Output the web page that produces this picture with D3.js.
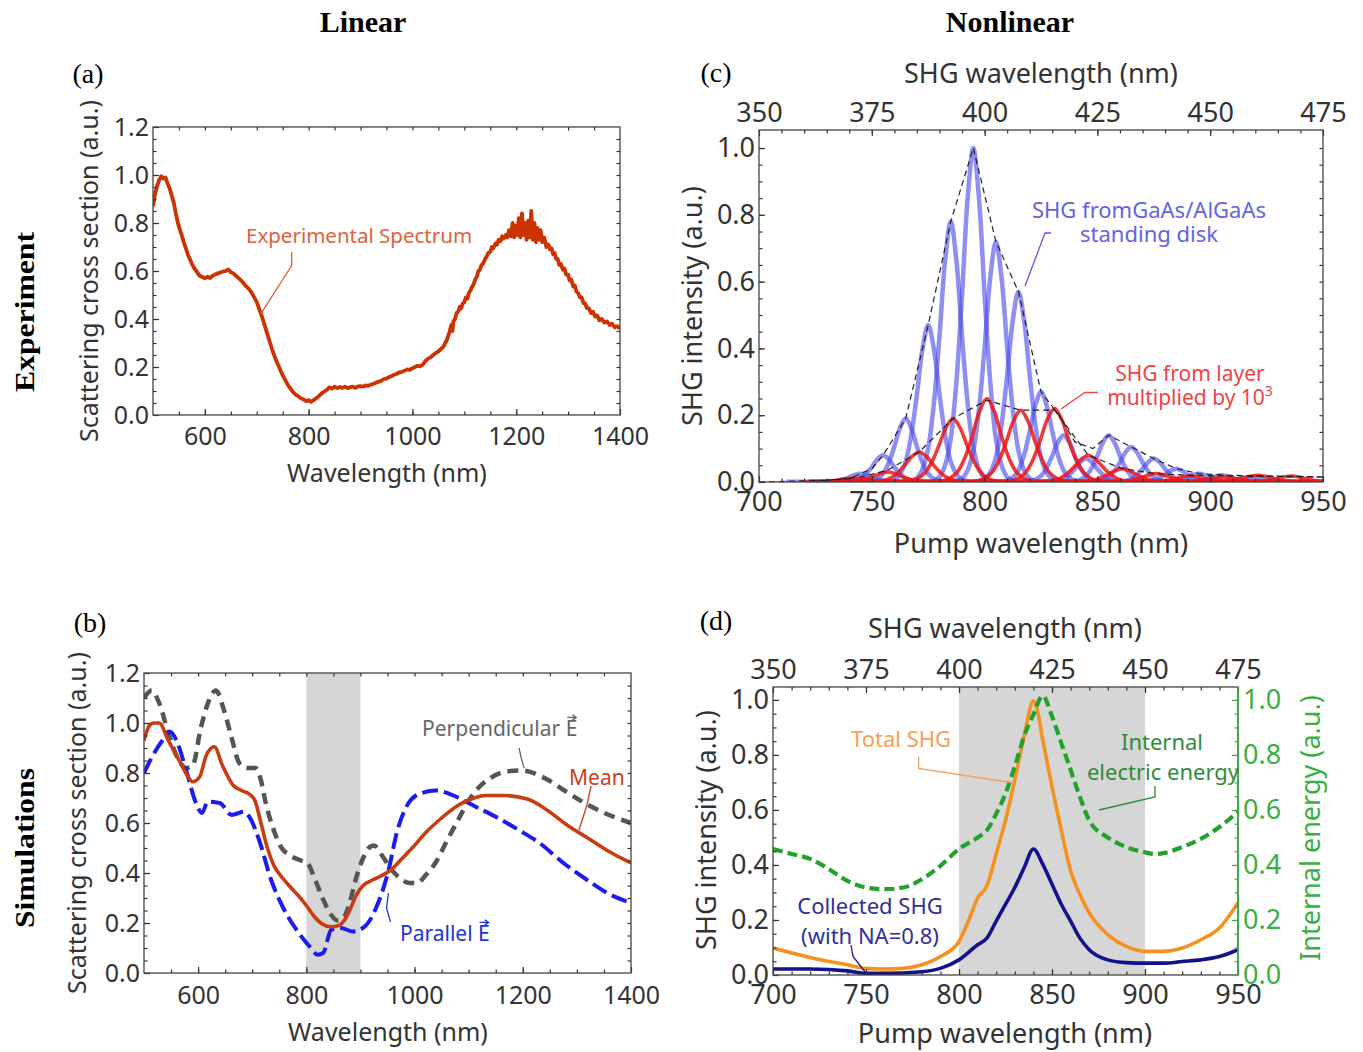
<!DOCTYPE html>
<html><head><meta charset="utf-8">
<script src="https://cdn.jsdelivr.net/npm/d3@7"></script>
<style>body{margin:0;background:#fff}svg{display:block}</style>
</head><body>
<svg id="chart" width="1363" height="1052"></svg>
<script>
// ---------------- DATA ----------------
// (a) experimental spectrum [wavelength nm, value]
const specA = [[500,.87],[504,.92],[508,.955],[512,.98],[516,.995],[520,.985],[524,.99],[528,.965],[532,.945],[536,.915],[540,.885],[544,.84],[548,.80],[552,.77],[556,.745],[560,.715],[564,.69],[568,.665],[572,.645],[576,.625],[580,.61],[585,.595],[590,.58],[595,.575],[600,.57],[605,.576],[610,.571],[615,.58],[620,.586],[625,.59],[630,.594],[635,.598],[640,.60],[645,.606],[650,.595],[655,.59],[660,.58],[665,.57],[670,.56],[675,.548],[680,.535],[685,.525],[690,.51],[695,.49],[700,.47],[705,.44],[710,.41],[715,.375],[720,.34],[725,.305],[730,.27],[735,.24],[740,.215],[745,.19],[750,.165],[755,.145],[760,.125],[765,.11],[770,.095],[775,.085],[780,.078],[785,.07],[790,.065],[795,.058],[800,.062],[805,.055],[810,.063],[815,.07],[820,.08],[825,.09],[830,.098],[835,.105],[840,.115],[845,.11],[850,.118],[855,.112],[860,.117],[865,.113],[870,.118],[875,.112],[880,.115],[885,.118],[890,.113],[895,.119],[900,.12],[905,.118],[910,.123],[915,.121],[920,.127],[925,.13],[930,.135],[935,.139],[940,.143],[945,.15],[950,.152],[955,.158],[960,.162],[965,.168],[970,.172],[975,.178],[980,.18],[985,.185],[990,.19],[995,.188],[1000,.195],[1005,.2],[1010,.205],[1015,.203],[1020,.21],[1025,.225],[1030,.235],[1035,.24],[1040,.25],[1045,.258],[1050,.265],[1055,.275],[1060,.285],[1063,.30],[1066,.31],[1069,.33],[1072,.35],[1075,.375],[1077,.35],[1079,.39],[1082,.40],[1085,.425],[1088,.43],[1091,.45],[1094,.445],[1097,.465],[1100,.47],[1103,.49],[1106,.485],[1109,.51],[1112,.52],[1115,.535],[1118,.545],[1121,.565],[1124,.575],[1127,.60],[1130,.605],[1133,.625],[1136,.63],[1140,.65],[1143,.66],[1146,.675],[1150,.68],[1153,.70],[1156,.695],[1160,.715],[1163,.71],[1166,.73],[1170,.725],[1173,.745],[1176,.735],[1180,.75],[1183,.74],[1186,.77],[1190,.745],[1193,.80],[1196,.74],[1199,.79],[1202,.75],[1205,.82],[1208,.74],[1211,.84],[1214,.75],[1217,.80],[1220,.73],[1223,.81],[1226,.74],[1229,.85],[1232,.73],[1235,.80],[1238,.72],[1241,.78],[1244,.73],[1247,.77],[1250,.72],[1254,.74],[1258,.70],[1262,.71],[1265,.69],[1268,.695],[1271,.67],[1274,.675],[1277,.65],[1280,.65],[1283,.625],[1286,.63],[1290,.605],[1293,.61],[1296,.585],[1300,.585],[1303,.56],[1306,.565],[1310,.535],[1313,.54],[1316,.515],[1320,.505],[1323,.49],[1326,.49],[1330,.465],[1333,.465],[1336,.445],[1340,.445],[1344,.425],[1348,.43],[1352,.41],[1356,.415],[1360,.395],[1365,.40],[1370,.385],[1375,.39],[1380,.375],[1385,.38],[1390,.365],[1395,.37],[1400,.36]];

// (b) simulations
const perpB = [[500,1.10],[514,1.13],[528,1.08],[545,0.96],[562,0.86],[578,0.82],[590,0.83],[605,0.98],[620,1.09],[633,1.13],[648,1.05],[662,0.94],[676,0.84],[690,0.82],[706,0.82],[715,0.78],[725,0.68],[740,0.57],[753,0.505],[770,0.47],[790,0.45],[802,0.44],[815,0.38],[830,0.30],[845,0.235],[858,0.21],[870,0.225],[880,0.28],[892,0.38],[905,0.46],[918,0.505],[925,0.51],[940,0.47],[955,0.42],[970,0.385],[990,0.36],[1005,0.36],[1020,0.39],[1040,0.445],[1060,0.53],[1080,0.61],[1100,0.69],[1120,0.745],[1140,0.78],[1167,0.805],[1198,0.81],[1240,0.78],[1277,0.73],[1314,0.68],[1351,0.64],[1400,0.60]];
const meanB = [[500,0.93],[510,0.99],[518,1.0],[528,1.0],[545,0.93],[565,0.85],[580,0.79],[590,0.765],[603,0.785],[615,0.87],[630,0.905],[645,0.83],[665,0.75],[680,0.73],[695,0.715],[705,0.69],[715,0.61],[728,0.50],[740,0.43],[756,0.38],[770,0.345],[785,0.31],[800,0.27],[815,0.225],[830,0.195],[845,0.185],[860,0.19],[870,0.21],[880,0.25],[892,0.31],[905,0.35],[920,0.37],[935,0.385],[955,0.41],[980,0.465],[1000,0.51],[1020,0.56],[1050,0.62],[1080,0.67],[1110,0.70],[1130,0.71],[1165,0.71],[1210,0.695],[1246,0.65],[1283,0.59],[1320,0.54],[1356,0.49],[1400,0.44]];
const paraB = [[500,0.80],[515,0.865],[534,0.93],[548,0.965],[560,0.93],[578,0.81],[596,0.68],[607,0.64],[618,0.685],[640,0.68],[662,0.632],[684,0.645],[698,0.612],[713,0.53],[735,0.372],[756,0.266],[786,0.16],[806,0.106],[821,0.073],[831,0.08],[846,0.173],[864,0.18],[886,0.166],[908,0.186],[930,0.266],[952,0.412],[967,0.56],[989,0.68],[1011,0.718],[1040,0.73],[1077,0.705],[1113,0.665],[1150,0.625],[1194,0.57],[1231,0.52],[1275,0.44],[1319,0.372],[1356,0.32],[1400,0.28]];
const bandB = [800, 900];

// (c) SHG resonance peaks (pump wavelength nm, height)
const blueCenters = [745,755,765,775,785,795,805,815,825,835,845,855,865,875,885,895,905,918];
const blueHeights = [0.025,0.08,0.19,0.47,0.78,1.0,0.72,0.57,0.27,0.14,0.07,0.14,0.105,0.07,0.04,0.025,0.02,0.015];
const redCenters = [742,757,771,786,801,816,831,846,861,876,891,906,921,936];
const redHeights = [0.012,0.03,0.09,0.19,0.25,0.215,0.22,0.08,0.04,0.025,0.018,0.015,0.02,0.018];
// shape of one resonance (offset nm, relative height)
const peakOffsets = [-15,-12,-10,-8,-6,-4,-2,0,2,4,6,8,10,12,15];
const peakProfile = [0,0.015,0.05,0.13,0.3,0.56,0.85,1,0.85,0.56,0.3,0.13,0.05,0.015,0];
const blueEnv = [[720,0],[740,0.01],[750,0.04],[755,0.08],[765,0.19],[775,0.47],[785,0.78],[795,1.0],[805,0.72],[815,0.57],[825,0.27],[833,0.2],[840,0.12],[848,0.1],[855,0.14],[865,0.105],[875,0.07],[885,0.04],[895,0.025],[910,0.02],[950,0.015]];
const redEnv = [[700,0],[730,0.005],[745,0.015],[757,0.035],[771,0.09],[786,0.19],[801,0.245],[816,0.215],[831,0.215],[846,0.08],[861,0.04],[876,0.025],[891,0.02],[950,0.015]];
const blueBase = [[712,0.003],[950,0.003]];
const redBase = [[722,0.004],[950,0.004]];

// (d) SHG spectra
const totalD = [[700,0.098],[720,0.064],[740,0.037],[750,0.024],[760,0.022],[770,0.024],[780,0.037],[790,0.067],[800,0.122],[805,0.196],[810,0.28],[815,0.324],[820,0.44],[825,0.562],[830,0.709],[835,0.868],[840,0.996],[842,0.966],[845,0.856],[850,0.685],[855,0.526],[860,0.379],[865,0.293],[870,0.226],[880,0.147],[890,0.104],[900,0.086],[910,0.086],[920,0.098],[930,0.128],[940,0.171],[950,0.263]];
const collD = [[700,0.022],[720,0.022],[740,0.015],[750,0.006],[760,0.006],[780,0.012],[790,0.024],[800,0.055],[810,0.11],[815,0.134],[820,0.196],[825,0.257],[830,0.318],[835,0.39],[840,0.458],[845,0.403],[850,0.33],[855,0.257],[860,0.196],[865,0.134],[870,0.092],[880,0.055],[890,0.045],[900,0.043],[910,0.043],[920,0.049],[930,0.055],[940,0.067],[950,0.092]];
const energyD = [[700,0.458],[710,0.44],[720,0.422],[730,0.385],[740,0.342],[750,0.318],[760,0.312],[770,0.318],[780,0.348],[790,0.397],[800,0.458],[810,0.50],[815,0.526],[820,0.586],[825,0.66],[830,0.758],[835,0.868],[840,0.947],[845,1.015],[850,0.941],[855,0.843],[860,0.746],[865,0.648],[870,0.562],[880,0.50],[890,0.465],[900,0.446],[905,0.44],[910,0.443],[920,0.465],[930,0.495],[940,0.538],[950,0.593]];
const bandD = [800, 900];

// tick labels
const ticksAB_x = [600,800,1000,1200,1400];
const ticksAB_y = [0,0.2,0.4,0.6,0.8,1.0,1.2];
const ticksCD_pump = [700,750,800,850,900,950];
const ticksCD_shg = [350,375,400,425,450,475];
const ticksCD_y = [0,0.2,0.4,0.6,0.8,1.0];

// ---------------- DRAW ----------------
const svg = d3.select('#chart');
const SANS = "'Noto Sans','Open Sans',sans-serif";
const SERIF = "'Liberation Serif','DejaVu Serif','Times New Roman',serif";
const TXT = '#333';
const FR = '#444';

function styleAx(sel, fs, color) {
  sel.select('.domain').remove();
  sel.selectAll('line').attr('stroke', color).attr('stroke-width', 1.2);
  sel.selectAll('text').attr('font-family', SANS).attr('font-size', fs).attr('fill', color);
  return sel;
}
function clip(id, x, y) {
  svg.append('clipPath').attr('id', id).append('rect')
    .attr('x', x.range()[0]).attr('y', y.range()[1])
    .attr('width', x.range()[1]-x.range()[0]).attr('height', y.range()[0]-y.range()[1]);
}
function frame(x, y, color) {
  svg.append('rect').attr('x', x.range()[0]).attr('y', y.range()[1])
    .attr('width', x.range()[1]-x.range()[0]).attr('height', y.range()[0]-y.range()[1])
    .attr('fill','none').attr('stroke', color||FR).attr('stroke-width',1.3);
}
function ax(gen, tx, ty, fs, color) {
  return styleAx(svg.append('g').attr('transform',`translate(${tx},${ty})`).call(gen), fs, color||TXT);
}
function text(x, y, str, o) {
  o = o || {};
  const t = svg.append('text').attr('x', x).attr('y', y).text(str)
    .attr('font-family', o.family || SANS).attr('font-size', o.fs || 24)
    .attr('fill', o.color || TXT).attr('text-anchor', o.anchor || 'middle')
    .attr('font-weight', o.weight || 'normal');
  if (o.rot) t.attr('transform', `rotate(${o.rot},${x},${y})`);
  return t;
}
function leader(pts, color) {
  svg.append('path').attr('d', d3.line()(pts)).attr('fill','none')
    .attr('stroke', color).attr('stroke-width', 1.3);
}
function vecArrow(t, idx, fs, color) {
  const ext = t.node().getExtentOfChar(idx);
  const base = +t.attr('y');
  const ay = base - 0.72*fs - 3.5;
  const x1 = ext.x + 1.5, x2 = ext.x + ext.width - 1;
  svg.append('path').attr('d', `M${x1},${ay}L${x2},${ay}M${x2-4},${ay-2.5}L${x2},${ay}L${x2-4},${ay+2.5}`)
    .attr('fill','none').attr('stroke', color).attr('stroke-width', 1.2);
}

// Headers
text(363, 32, 'Linear', {family: SERIF, fs: 30, weight: 'bold', color: '#000'});
text(1010, 32, 'Nonlinear', {family: SERIF, fs: 30, weight: 'bold', color: '#000'});
text(34, 312, 'Experiment', {family: SERIF, fs: 28, weight: 'bold', color: '#000', rot: -90}).attr('textLength', 160).attr('lengthAdjust','spacingAndGlyphs');
text(34, 848, 'Simulations', {family: SERIF, fs: 28, weight: 'bold', color: '#000', rot: -90}).attr('textLength', 160).attr('lengthAdjust','spacingAndGlyphs');
text(88, 83, '(a)', {family: SERIF, fs: 28, color: '#000'});
text(90, 632, '(b)', {family: SERIF, fs: 28, color: '#000'});
text(716, 82, '(c)', {family: SERIF, fs: 28, color: '#000'});
text(716, 630, '(d)', {family: SERIF, fs: 28, color: '#000'});

// ---------- Panel A ----------
{
  const x = d3.scaleLinear([500,1400],[153,620]);
  const y = d3.scaleLinear([0,1.2],[415,127]);
  const fs = 25;
  clip('clipA', x, y);
  svg.append('path').datum(specA).attr('clip-path','url(#clipA)')
    .attr('d', d3.line().x(d=>x(d[0])).y(d=>y(d[1])))
    .attr('fill','none').attr('stroke','#cc3300').attr('stroke-width',3.8).attr('stroke-linejoin','round');
  const minX = d3.range(550,1400,50), minY = d3.range(0.05,1.2,0.05);
  ax(d3.axisBottom(x).tickValues(ticksAB_x).tickFormat(d3.format('d')).tickSizeInner(-6).tickSizeOuter(0).tickPadding(12), 0, 415, fs);
  ax(d3.axisBottom(x).tickValues(minX).tickFormat('').tickSize(-3.5), 0, 415, fs);
  ax(d3.axisTop(x).tickValues(minX).tickFormat('').tickSize(-3.5), 0, 127, fs);
  ax(d3.axisLeft(y).tickValues(ticksAB_y).tickFormat(d3.format('.1f')).tickSizeInner(-6).tickSizeOuter(0).tickPadding(4), 153, 0, fs);
  ax(d3.axisLeft(y).tickValues(minY).tickFormat('').tickSize(-3.5), 153, 0, fs);
  ax(d3.axisRight(y).tickValues(minY).tickFormat('').tickSize(-3.5), 620, 0, fs);
  frame(x, y);
  text(387, 482, 'Wavelength (nm)', {fs});
  text(98, 271, 'Scattering cross section (a.u.)', {fs, rot: -90});
  text(246, 243, 'Experimental Spectrum', {fs: 20.5, color: '#e2603a', anchor: 'start'});
  leader([[291.7,252],[291.7,265.6],[261,313.7]], '#e2603a');
}

// ---------- Panel B ----------
{
  const x = d3.scaleLinear([500,1400],[144,631]);
  const y = d3.scaleLinear([0,1.2],[973,673]);
  const fs = 25;
  clip('clipB', x, y);
  svg.append('rect').attr('x', x(bandB[0])).attr('y', y(1.2)).attr('width', x(bandB[1])-x(bandB[0]))
    .attr('height', y(0)-y(1.2)).attr('fill','#d6d6d6');
  const line = d3.line().x(d=>x(d[0])).y(d=>y(d[1])).curve(d3.curveMonotoneX);
  const g = svg.append('g').attr('clip-path','url(#clipB)');
  g.append('path').datum(perpB).attr('d', line).attr('fill','none').attr('stroke','#555')
    .attr('stroke-width',4.5).attr('stroke-dasharray','11,7');
  g.append('path').datum(paraB).attr('d', line).attr('fill','none').attr('stroke','#1c1cf0')
    .attr('stroke-width',4).attr('stroke-dasharray','16,6');
  g.append('path').datum(meanB).attr('d', line).attr('fill','none').attr('stroke','#c83c10')
    .attr('stroke-width',3.6);
  const minX = d3.range(550,1400,50), minY = d3.range(0.05,1.2,0.05);
  ax(d3.axisBottom(x).tickValues(ticksAB_x).tickFormat(d3.format('d')).tickSizeInner(-6).tickSizeOuter(0).tickPadding(13), 0, 973, fs);
  ax(d3.axisBottom(x).tickValues(minX).tickFormat('').tickSize(-3.5), 0, 973, fs);
  ax(d3.axisTop(x).tickValues(minX).tickFormat('').tickSize(-3.5), 0, 673, fs);
  ax(d3.axisLeft(y).tickValues(ticksAB_y).tickFormat(d3.format('.1f')).tickSizeInner(-6).tickSizeOuter(0).tickPadding(4), 144, 0, fs);
  ax(d3.axisLeft(y).tickValues(minY).tickFormat('').tickSize(-3.5), 144, 0, fs);
  ax(d3.axisRight(y).tickValues(minY).tickFormat('').tickSize(-3.5), 631, 0, fs);
  frame(x, y);
  text(388, 1041, 'Wavelength (nm)', {fs});
  text(86, 823, 'Scattering cross section (a.u.)', {fs, rot: -90});
  const tp = text(422, 736, 'Perpendicular E', {fs: 21, color: '#666', anchor: 'start'});
  vecArrow(tp, 14, 21, '#666');
  text(569, 785, 'Mean', {fs: 21, color: '#c8401c', anchor: 'start'});
  const tpa = text(400, 941, 'Parallel E', {fs: 21, color: '#2233dd', anchor: 'start'});
  vecArrow(tpa, 9, 21, '#2233dd');
  leader([[519,748],[521,757],[524,768]], '#666');
  leader([[591,786],[587,805],[579,830]], '#c8401c');
  leader([[390.5,922],[386.5,908],[388.5,893]], '#2233dd');
}

// ---------- Panel C ----------
{
  const x = d3.scaleLinear([700,950],[759,1323]);
  const xt = d3.scaleLinear([350,475],[759,1323]);
  const y = d3.scaleLinear([0,1.054],[482,130]);
  const fs = 27;
  clip('clipC', x, y);
  const g = svg.append('g').attr('clip-path','url(#clipC)');
  const line = d3.line().x(d=>x(d[0])).y(d=>y(d[1])).curve(d3.curveCatmullRom);
  const peak = (c, h, w) => peakOffsets.map((o,i)=>[c + o*w, h*peakProfile[i]]);
  g.append('path').datum(blueBase).attr('d', d3.line().x(d=>x(d[0])).y(d=>y(d[1])))
    .attr('fill','none').attr('stroke','rgba(80,80,235,0.6)').attr('stroke-width',3);
  blueCenters.forEach((c,i)=>{
    g.append('path').datum(peak(c, blueHeights[i], 1.25)).attr('d', line).attr('fill','none')
      .attr('stroke','rgba(75,75,235,0.62)').attr('stroke-width',4.5);
  });
  g.append('path').datum(redBase).attr('d', d3.line().x(d=>x(d[0])).y(d=>y(d[1])))
    .attr('fill','none').attr('stroke','rgba(235,25,25,0.8)').attr('stroke-width',3);
  redCenters.forEach((c,i)=>{
    g.append('path').datum(peak(c, redHeights[i], 1.6)).attr('d', line).attr('fill','none')
      .attr('stroke','rgba(238,22,22,0.85)').attr('stroke-width',3.6);
  });
  const envLine = d3.line().x(d=>x(d[0])).y(d=>y(d[1]));
  [blueEnv, redEnv].forEach(e=>{
    g.append('path').datum(e).attr('d', envLine).attr('fill','none').attr('stroke','#222')
      .attr('stroke-width',1.2).attr('stroke-dasharray','6,4');
  });
  const minX = d3.range(710,950,10), minY = d3.range(0.05,1.05,0.05);
  ax(d3.axisBottom(x).tickValues(ticksCD_pump).tickFormat(d3.format('d')).tickSizeInner(-6).tickSizeOuter(0).tickPadding(10), 0, 482, fs);
  ax(d3.axisBottom(x).tickValues(minX).tickFormat('').tickSize(-3.5), 0, 482, fs);
  ax(d3.axisTop(xt).tickValues(ticksCD_shg).tickFormat(d3.format('d')).tickSizeInner(-6).tickSizeOuter(0).tickPadding(8), 0, 130, fs);
  ax(d3.axisTop(xt).tickValues(d3.range(355,475,5)).tickFormat('').tickSize(-3.5), 0, 130, fs);
  ax(d3.axisLeft(y).tickValues(ticksCD_y).tickFormat(d3.format('.1f')).tickSizeInner(-6).tickSizeOuter(0).tickPadding(4), 759, 0, fs);
  ax(d3.axisLeft(y).tickValues(minY).tickFormat('').tickSize(-3.5), 759, 0, fs);
  ax(d3.axisRight(y).tickValues(minY).tickFormat('').tickSize(-3.5), 1323, 0, fs);
  frame(x, y);
  text(1041, 83, 'SHG wavelength (nm)', {fs});
  text(1041, 553, 'Pump wavelength (nm)', {fs});
  text(702, 306, 'SHG intensity (a.u.)', {fs, rot: -90});
  text(1149, 218, 'SHG fromGaAs/AlGaAs', {fs: 22, color: '#6363e6'});
  text(1149, 242, 'standing disk', {fs: 22, color: '#6363e6'});
  leader([[1051,233],[1045,233],[1025,286]], '#5a5ae0');
  text(1190, 381, 'SHG from layer', {fs: 21, color: '#ee4444'});
  const tm = text(1190, 405, 'multiplied by 10', {fs: 21, color: '#ee4444'});
  tm.append('tspan').attr('dy', -9).attr('font-size', 14).text('3');
  leader([[1098,392.5],[1085,392.5],[1061,409]], '#ee4444');
}

// ---------- Panel D ----------
{
  const x = d3.scaleLinear([700,950],[773,1238]);
  const xt = d3.scaleLinear([350,475],[773,1238]);
  const y = d3.scaleLinear([0,1.047],[975,687]);
  const y2 = d3.scaleLinear([0,1.047],[975,687]);
  const fs = 27;
  const GREEN = '#38b040';
  clip('clipD', x, y);
  svg.append('rect').attr('x', x(bandD[0])).attr('y', y.range()[1]).attr('width', x(bandD[1])-x(bandD[0]))
    .attr('height', y.range()[0]-y.range()[1]).attr('fill','#d6d6d6');
  const line = d3.line().x(d=>x(d[0])).y(d=>y(d[1])).curve(d3.curveMonotoneX);
  const g = svg.append('g').attr('clip-path','url(#clipD)');
  g.append('path').datum(totalD).attr('d', line).attr('fill','none').attr('stroke','#f5911e').attr('stroke-width',3.6);
  g.append('path').datum(collD).attr('d', line).attr('fill','none').attr('stroke','#12128e').attr('stroke-width',3.6);
  g.append('path').datum(energyD).attr('d', d3.line().x(d=>x(d[0])).y(d=>y2(d[1])).curve(d3.curveMonotoneX))
    .attr('fill','none').attr('stroke','#22a22a').attr('stroke-width',4.2).attr('stroke-dasharray','10,5');
  const minX = d3.range(710,950,10), minY = d3.range(0.05,1.05,0.05);
  ax(d3.axisBottom(x).tickValues(ticksCD_pump).tickFormat(d3.format('d')).tickSizeInner(-6).tickSizeOuter(0).tickPadding(10), 0, 975, fs);
  ax(d3.axisBottom(x).tickValues(minX).tickFormat('').tickSize(-3.5), 0, 975, fs);
  ax(d3.axisTop(xt).tickValues(ticksCD_shg).tickFormat(d3.format('d')).tickSizeInner(-6).tickSizeOuter(0).tickPadding(8), 0, 687, fs);
  ax(d3.axisTop(xt).tickValues(d3.range(355,475,5)).tickFormat('').tickSize(-3.5), 0, 687, fs);
  ax(d3.axisLeft(y).tickValues(ticksCD_y).tickFormat(d3.format('.1f')).tickSizeInner(-6).tickSizeOuter(0).tickPadding(4), 773, 0, fs);
  ax(d3.axisLeft(y).tickValues(minY).tickFormat('').tickSize(-3.5), 773, 0, fs);
  frame(x, y);
  svg.append('line').attr('x1',1238).attr('x2',1238).attr('y1',687).attr('y2',975).attr('stroke',GREEN).attr('stroke-width',1.6);
  ax(d3.axisRight(y2).tickValues(ticksCD_y).tickFormat(d3.format('.1f')).tickSizeInner(-6).tickSizeOuter(0).tickPadding(5), 1238, 0, fs, GREEN);
  ax(d3.axisRight(y2).tickValues(minY).tickFormat('').tickSize(-3.5), 1238, 0, fs, GREEN);
  text(1005, 638, 'SHG wavelength (nm)', {fs});
  text(1005, 1043, 'Pump wavelength (nm)', {fs});
  text(716, 830, 'SHG intensity (a.u.)', {fs, rot: -90});
  text(1320, 828, 'Internal energy (a.u.)', {fs, rot: -90, color: GREEN});
  text(901, 747, 'Total SHG', {fs: 22, color: '#f5a055'});
  leader([[918.6,756.6],[918.6,768.4],[1014,783]], '#f0a060');
  text(1162, 750, 'Internal', {fs: 22, color: '#2e8b3a'});
  text(1163, 780, 'electric energy', {fs: 22, color: '#2e8b3a'});
  leader([[1155,786],[1155,797],[1099,810]], '#2e8b3a');
  text(870, 914, 'Collected SHG', {fs: 22, color: '#30309a'});
  text(870, 944, '(with NA=0.8)', {fs: 22, color: '#30309a'});
  leader([[851,945],[853,956.5],[866,973]], '#1a1a8a');
}
</script>
</body></html>
